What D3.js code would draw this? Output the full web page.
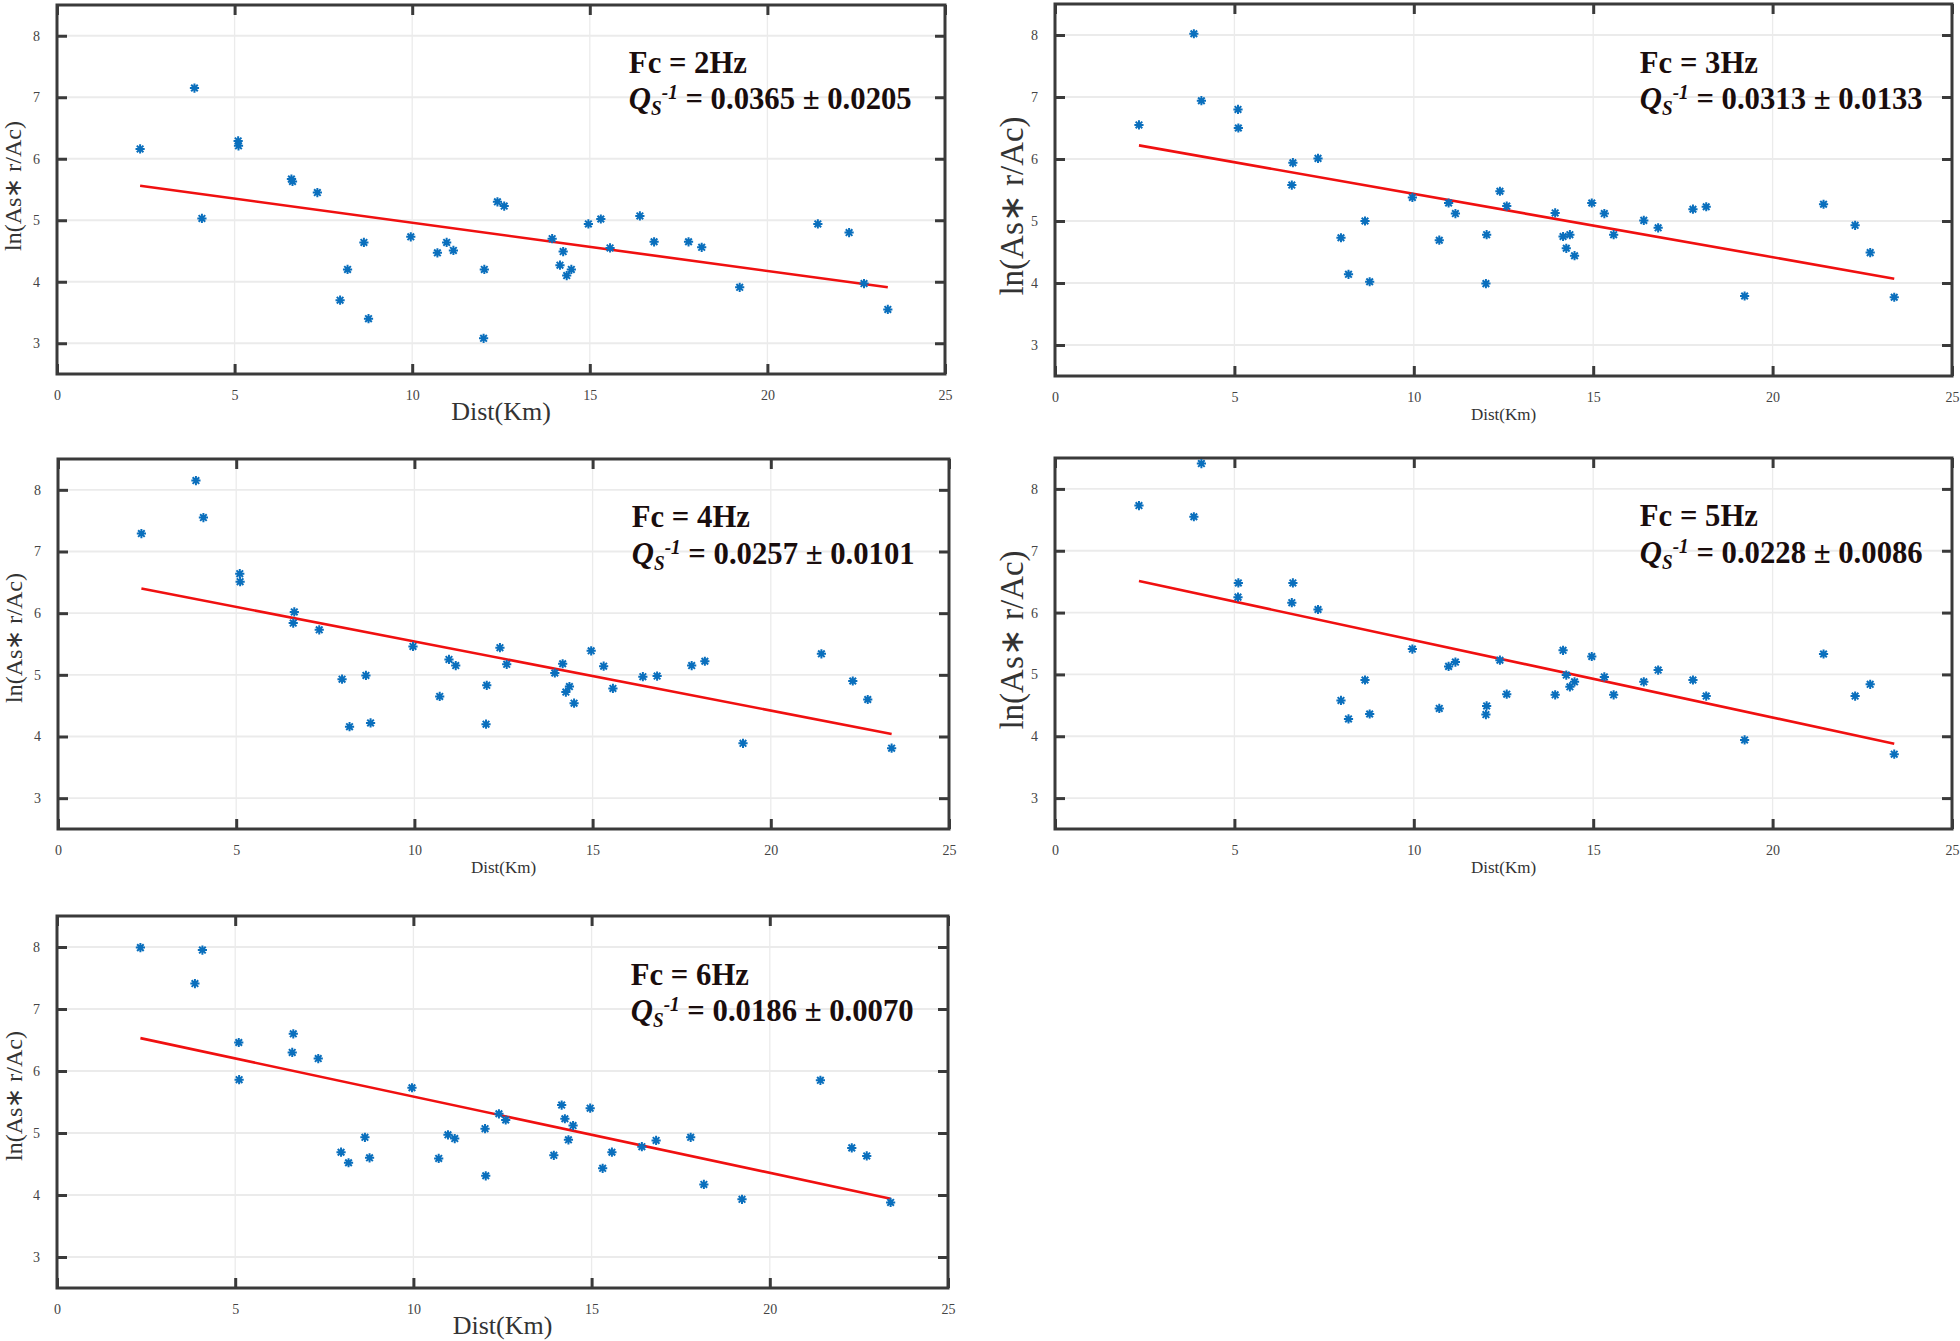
<!DOCTYPE html>
<meta charset="utf-8">
<head>
<script src="https://d3js.org/d3.v7.min.js"></script>
<style>
  body { margin: 0; background: #fff; }
  text { font-family: "Liberation Serif", "Times New Roman", serif; }
</style>
</head>
<body>
<div id="chart"></div>
<script>
// epicentral distance (km), same stations in every panel
var dist = [2.34, 3.87, 4.08, 5.10, 5.11, 6.60, 6.63, 7.33, 7.97, 8.18, 8.64, 8.77, 9.96, 10.71, 10.97, 11.16,
            12.01, 12.03, 12.40, 12.59, 13.94, 14.16, 14.25, 14.35, 14.48, 14.96, 15.31, 15.57, 16.41, 16.81,
            17.78, 18.15, 19.22, 21.42, 22.30, 22.72, 23.39];

// ln(As*r/Ac) for each centre frequency
var lnFc2 = [6.16, 7.15, 5.03, 6.29, 6.21, 5.67, 5.63, 5.45, 3.70, 4.20, 4.64, 3.40, 4.73, 4.47, 4.64, 4.51,
             3.08, 4.20, 5.30, 5.23, 4.70, 4.27, 4.49, 4.10, 4.20, 4.94, 5.02, 4.55, 5.07, 4.65,
             4.65, 4.56, 3.91, 4.94, 4.80, 3.97, 3.55];
var lnFc3 = [6.55, 8.02, 6.94, 6.80, 6.50, 5.58, 5.94, 6.01, 4.73, 4.14, 5.00, 4.02, 5.38, 4.69, 5.29, 5.12,
             3.99, 4.78, 5.48, 5.24, 5.13, 4.75, 4.56, 4.78, 4.44, 5.29, 5.12, 4.78, 5.01, 4.89,
             5.19, 5.23, 3.79, 5.27, 4.93, 4.49, 3.77];
var lnFc4 = [7.29, 8.15, 7.55, 6.64, 6.51, 5.84, 6.02, 5.73, 4.93, 4.16, 4.99, 4.22, 5.46, 4.65, 5.25, 5.15,
             4.20, 4.83, 5.44, 5.17, 5.03, 5.18, 4.72, 4.81, 4.54, 5.39, 5.14, 4.78, 4.97, 4.98,
             5.15, 5.22, 3.89, 5.34, 4.90, 4.60, 3.81];
var lnFc5 = [7.73, 7.55, 8.41, 6.25, 6.48, 6.16, 6.48, 6.05, 4.58, 4.28, 4.91, 4.36, 5.41, 4.45, 5.13, 5.20,
             4.35, 4.49, 5.23, 4.68, 4.67, 5.39, 4.99, 4.80, 4.88, 5.29, 4.96, 4.67, 4.88, 5.07,
             4.91, 4.65, 3.94, 5.33, 4.65, 4.84, 3.71];
var lnFc6 = [7.99, 7.41, 7.95, 6.46, 5.86, 6.30, 6.60, 6.20, 4.69, 4.52, 4.93, 4.60, 5.73, 4.59, 4.97, 4.91,
             5.07, 4.31, 5.31, 5.21, 4.64, 5.45, 5.23, 4.89, 5.12, 5.40, 4.43, 4.69, 4.78, 4.88,
             4.93, 4.17, 3.93, 5.85, 4.76, 4.63, 3.88];

var freqs = [2, 3, 4, 5, 6];
var qsVal = ["0.0365", "0.0313", "0.0257", "0.0228", "0.0186"];
var qsErr = ["0.0205", "0.0133", "0.0101", "0.0086", "0.0070"];
// fitted line value at min and max distance
var fitStart = [5.56, 6.22, 6.40, 6.51, 6.53];
var fitEnd = [3.91, 4.07, 4.04, 3.88, 3.94];

var xTicks = [0, 5, 10, 15, 20, 25];
var yTicks = [3, 4, 5, 6, 7, 8];

var series = [lnFc2, lnFc3, lnFc4, lnFc5, lnFc6];

// panel boxes in page pixels, label sizes and y-label centre
var panels = [
  {l: 57,   r: 945,  t: 5,   b: 374,  yl: 24, xl: 26, ylx: 13,   yly: 186},
  {l: 1055, r: 1952, t: 4,   b: 376,  yl: 33, xl: 17, ylx: 1012, yly: 206},
  {l: 58,   r: 949,  t: 459, b: 829,  yl: 24, xl: 17, ylx: 14,   yly: 638},
  {l: 1055, r: 1952, t: 458, b: 829,  yl: 33, xl: 17, ylx: 1012, yly: 640},
  {l: 57,   r: 948,  t: 916, b: 1288, yl: 24, xl: 26, ylx: 14,   yly: 1096}
];

var svg = d3.select("#chart").append("svg")
    .attr("width", 1960)
    .attr("height", 1341);

var star = "M-4.6,0H4.6M0,-4.6V4.6M-3.3,-3.3L3.3,3.3M-3.3,3.3L3.3,-3.3";

panels.forEach(function(p, i) {
  var x = d3.scaleLinear().domain([0, 25]).range([p.l, p.r]);
  var y = d3.scaleLinear().domain([2.5, 8.5]).range([p.b, p.t]);
  var g = svg.append("g");

  // grid
  g.selectAll(".gx").data(xTicks.slice(1, -1)).enter().append("line")
    .attr("x1", function(d) { return x(d); }).attr("x2", function(d) { return x(d); })
    .attr("y1", p.t).attr("y2", p.b)
    .attr("stroke", "#ebebeb").attr("stroke-width", 1.3);
  g.selectAll(".gy").data(yTicks).enter().append("line")
    .attr("y1", function(d) { return y(d); }).attr("y2", function(d) { return y(d); })
    .attr("x1", p.l).attr("x2", p.r)
    .attr("stroke", "#ebebeb").attr("stroke-width", 1.8);

  // axes with inward ticks on all sides
  var tickLen = 10;
  var axB = d3.axisBottom(x).tickValues(xTicks).tickSize(-tickLen).tickPadding(tickLen + 6).tickFormat(d3.format("d"));
  var axT = d3.axisTop(x).tickValues(xTicks).tickSize(-tickLen).tickFormat("");
  var axL = d3.axisLeft(y).tickValues(yTicks).tickSize(-tickLen).tickPadding(tickLen + 7).tickFormat(d3.format("d"));
  var axR = d3.axisRight(y).tickValues(yTicks).tickSize(-tickLen).tickFormat("");

  [[axB, "translate(0," + p.b + ")"], [axT, "translate(0," + p.t + ")"],
   [axL, "translate(" + p.l + ",0)"], [axR, "translate(" + p.r + ",0)"]].forEach(function(a) {
    var ag = g.append("g").attr("transform", a[1]).call(a[0]);
    ag.select(".domain").remove();
    ag.selectAll(".tick line").attr("stroke", "#3a3a3a").attr("stroke-width", 3);
    ag.selectAll(".tick text")
      .attr("fill", "#444")
      .style("font-family", "'Liberation Serif', serif")
      .style("font-size", "14px");
  });

  // box
  g.append("rect")
    .attr("x", p.l).attr("y", p.t)
    .attr("width", p.r - p.l).attr("height", p.b - p.t)
    .attr("fill", "none").attr("stroke", "#3a3a3a").attr("stroke-width", 3);

  // fitted line
  g.append("line")
    .attr("x1", x(d3.min(dist))).attr("y1", y(fitStart[i]))
    .attr("x2", x(d3.max(dist))).attr("y2", y(fitEnd[i]))
    .attr("stroke", "#f01010").attr("stroke-width", 2.6);

  // points
  g.selectAll(".pt").data(series[i]).enter().append("path")
    .attr("d", star)
    .attr("transform", function(d, k) { return "translate(" + x(dist[k]) + "," + y(d) + ")"; })
    .attr("stroke", "#0a6fbd").attr("stroke-width", 2).attr("fill", "none");

  // annotation (slightly condensed bold serif)
  var ax0 = x(i % 2 === 0 ? 16.1 : 16.3);
  g.append("text")
    .attr("transform", "translate(" + ax0 + "," + (y(7.36) - 2) + ") scale(0.96,1)")
    .attr("fill", "#1a0d0d").style("font-weight", "bold").style("font-size", "32px")
    .text("Fc = " + freqs[i] + "Hz");
  var q = g.append("text")
    .attr("transform", "translate(" + ax0 + "," + (y(6.82) + 1) + ") scale(0.96,1)")
    .attr("fill", "#1a0d0d").style("font-weight", "bold").style("font-size", "32px");
  q.append("tspan").style("font-style", "italic").text("Q");
  q.append("tspan").style("font-style", "italic").style("font-size", "20px").attr("dy", 6).text("S");
  q.append("tspan").style("font-style", "italic").style("font-size", "20px").attr("dy", -16).text("-1");
  q.append("tspan").attr("dy", 10).text(" = " + qsVal[i] + " \u00b1 " + qsErr[i]);

  // axis labels
  var xlBase = p.xl > 20 ? p.b + 46 : p.b + 44;
  g.append("text")
    .attr("x", (p.l + p.r) / 2).attr("y", xlBase)
    .attr("text-anchor", "middle")
    .attr("fill", "#333").style("font-size", p.xl + "px")
    .text("Dist(Km)");
  g.append("text")
    .attr("transform", "translate(" + p.ylx + "," + p.yly + ") rotate(-90)")
    .attr("text-anchor", "middle").attr("dy", "0.33em")
    .attr("fill", "#333").style("font-size", p.yl + "px")
    .text("ln(As\u2217 r/Ac)");
});
</script>
</body>
</html>
